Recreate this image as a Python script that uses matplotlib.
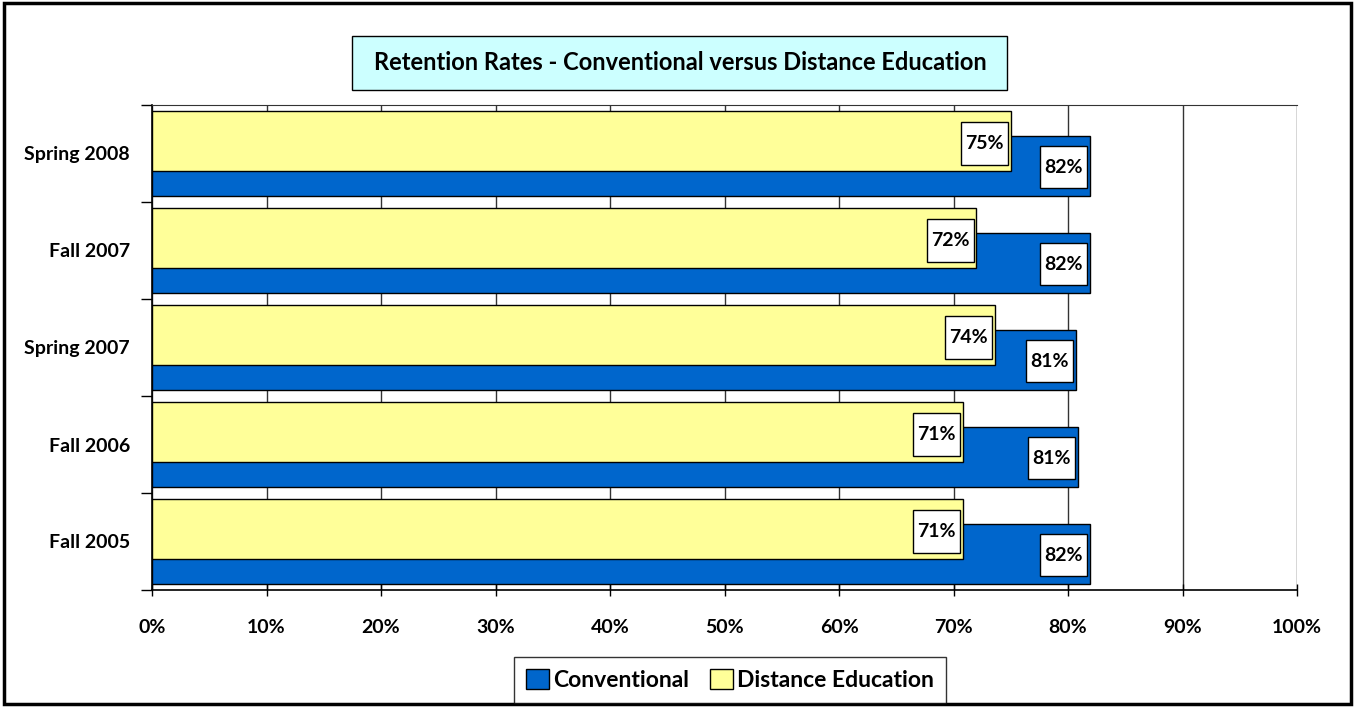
import numpy as np
import matplotlib.pyplot as plt
from matplotlib.patches import Rectangle

# Data (percent)
terms = ["Fall 2005", "Fall 2006", "Spring 2007", "Fall 2007", "Spring 2008"]
conventional = [81.9, 80.9, 80.7, 81.9, 81.9]
distance = [70.8, 70.8, 73.6, 72.0, 75.0]
x_ticks = [0, 10, 20, 30, 40, 50, 60, 70, 80, 90, 100]

plt.rcParams['font.family'] = ['Lato', 'DejaVu Sans']

W, H = 1357, 707
fig = plt.figure(figsize=(W / 100, H / 100), dpi=100)
ax = fig.add_axes([152 / W, 117 / H, 1145 / W, 485 / H])

y = np.arange(len(terms))
h = 0.62
off = 0.13

ax.barh(y - off, conventional, height=h, color="#0066CC", edgecolor="black", linewidth=1,
        label="Conventional", zorder=2)
ax.barh(y + off, distance, height=h, color="#FFFF99", edgecolor="black", linewidth=1,
        label="Distance Education", zorder=3)

# value labels in white boxes at the inside end of each bar
bw, bh = 4.1, 0.44
def label(v, yc):
    x1 = v - 0.25
    ax.add_patch(Rectangle((x1 - bw, yc - bh / 2), bw, bh, facecolor="white",
                           edgecolor="black", linewidth=1, zorder=5))
    ax.text(x1 - bw / 2, yc, f"{round(v)}%", ha="center", va="center", fontsize=14,
            fontweight="bold", zorder=6)

for yi, v in zip(y, conventional):
    label(v, yi - off - 0.01)
for yi, v in zip(y, distance):
    label(v, yi + off - 0.025)

ax.set_xlim(0, 100)
ax.set_ylim(-0.5, len(terms) - 0.5)
ax.set_xticks(x_ticks)
ax.set_xticklabels([f"{t}%" for t in x_ticks], fontsize=14, fontweight="bold")
ax.set_yticks(y)
ax.set_yticklabels(terms, fontsize=14, fontweight="bold")
ax.set_yticks(np.arange(-0.5, len(terms), 1), minor=True)
ax.tick_params(axis="y", which="major", length=0, pad=16)
ax.tick_params(axis="y", which="minor", length=8, width=1, direction="out")
ax.tick_params(axis="x", length=8, width=1, direction="inout", pad=17)

ax.grid(axis="x", color="#333333", linewidth=1, zorder=0)
ax.set_axisbelow(True)
ax.spines["right"].set_visible(False)
ax.spines["top"].set_color("#333333")
for s in ["left", "bottom"]:
    ax.spines[s].set_linewidth(1.2)

# Title box
fig.patches.append(Rectangle((352 / W, 1 - 90 / H), 655 / W, 54 / H, transform=fig.transFigure,
                             facecolor="#CCFFFF", edgecolor="black", linewidth=1))
fig.text(680 / W, 1 - 63 / H, "Retention Rates - Conventional versus Distance Education",
         ha="center", va="center", fontsize=17, fontweight="bold")

leg = fig.legend(loc="center", bbox_to_anchor=(730 / W, 1 - 680 / H), ncol=2,
                 prop={"weight": "bold", "size": 16.5}, frameon=True,
                 fancybox=False, edgecolor="black", handlelength=1.0, handleheight=1.0,
                 handletextpad=0.2, columnspacing=0.9, borderpad=0.5, borderaxespad=0)
leg.get_frame().set_linewidth(1)

# Outer border
fig.patches.append(Rectangle((4 / W, 3 / H), 1347 / W, 701 / H, transform=fig.transFigure,
                             fill=False, edgecolor="black", linewidth=2.5))

fig.savefig("out.png", dpi=100)
